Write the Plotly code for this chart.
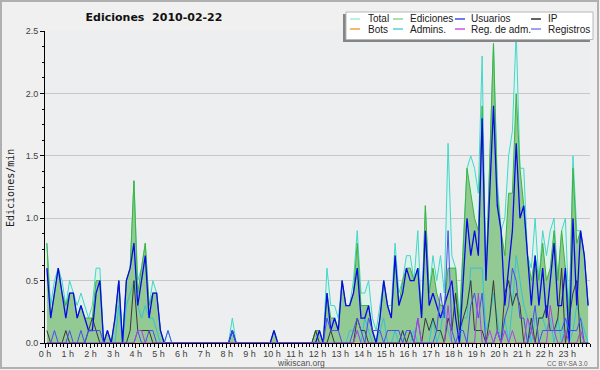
import plotly.graph_objects as go

# ---------------- data (edits per minute, 10-minute steps, 2010-02-22) ----------------
HOUR_TICKS = list(range(24))
HOUR_LABELS = ["0 h", "1 h", "2 h", "3 h", "4 h", "5 h", "6 h", "7 h", "8 h", "9 h", "10 h", "11 h",
               "12 h", "13 h", "14 h", "15 h", "16 h", "17 h", "18 h", "19 h", "20 h", "21 h", "22 h", "23 h"]

total = [
    0.8, 0.3, 0.5, 0.6, 0.5, 0.3,   # 0 h
    0.5, 0.4, 0.3, 0.4, 0.3, 0.2,   # 1 h
    0.3, 0.6, 0.6, 0.0, 0.1, 0.0,   # 2 h
    0.2, 0.5, 0.0, 0.5, 0.6, 1.3,   # 3 h
    0.5, 0.6, 0.8, 0.3, 0.5, 0.4,   # 4 h
    0.1, 0.0, 0.1, 0.0, 0.0, 0.0,   # 5 h
    0.0, 0.0, 0.0, 0.0, 0.0, 0.0,   # 6 h
    0.0, 0.0, 0.0, 0.0, 0.0, 0.0,   # 7 h
    0.0, 0.2, 0.0, 0.0, 0.0, 0.0,   # 8 h
    0.0, 0.0, 0.0, 0.0, 0.0, 0.0,   # 9 h
    0.1, 0.0, 0.0, 0.0, 0.0, 0.0,   # 10 h
    0.0, 0.0, 0.0, 0.0, 0.0, 0.1,   # 11 h
    0.1, 0.0, 0.6, 0.3, 0.3, 0.2,   # 12 h
    0.5, 0.3, 0.3, 0.5, 0.9, 0.4,   # 13 h
    0.4, 0.5, 0.2, 0.1, 0.3, 0.5,   # 14 h
    0.3, 0.3, 0.8, 0.4, 0.5, 0.7,   # 15 h
    0.7, 0.5, 0.9, 0.2, 1.1, 0.4,   # 16 h
    0.7, 0.5, 0.7, 0.4, 1.6, 0.7,   # 17 h
    0.6, 0.2, 0.8, 1.4, 1.5, 1.4,   # 18 h
    1.2, 2.3, 0.5, 1.4, 2.4, 1.3,   # 19 h
    0.9, 1.0, 1.5, 1.7, 2.5, 1.4,   # 20 h
    1.4, 0.7, 0.6, 1.0, 0.5, 0.9,   # 21 h
    0.7, 0.9, 1.0, 0.5, 0.9, 1.0,   # 22 h
    0.2, 1.5, 0.9, 0.9, 0.7, 0.3,   # 23 h
]

ediciones = [
    0.8, 0.2, 0.4, 0.6, 0.4, 0.3,
    0.4, 0.4, 0.2, 0.3, 0.2, 0.2,
    0.2, 0.5, 0.5, 0.0, 0.1, 0.0,
    0.2, 0.5, 0.0, 0.5, 0.6, 1.3,
    0.4, 0.6, 0.8, 0.3, 0.4, 0.4,
    0.1, 0.0, 0.0, 0.0, 0.0, 0.0,
    0.0, 0.0, 0.0, 0.0, 0.0, 0.0,
    0.0, 0.0, 0.0, 0.0, 0.0, 0.0,
    0.0, 0.1, 0.0, 0.0, 0.0, 0.0,
    0.0, 0.0, 0.0, 0.0, 0.0, 0.0,
    0.1, 0.0, 0.0, 0.0, 0.0, 0.0,
    0.0, 0.0, 0.0, 0.0, 0.0, 0.1,
    0.1, 0.0, 0.4, 0.2, 0.2, 0.1,
    0.5, 0.3, 0.3, 0.4, 0.8, 0.3,
    0.3, 0.3, 0.1, 0.0, 0.2, 0.5,
    0.3, 0.2, 0.7, 0.3, 0.5, 0.6,
    0.6, 0.5, 0.6, 0.2, 1.1, 0.4,
    0.6, 0.4, 0.3, 0.3, 0.6, 0.6,
    0.6, 0.1, 0.7, 1.4, 1.2, 1.0,
    0.9, 1.9, 0.5, 1.4, 2.4, 1.2,
    0.9, 0.7, 1.2, 1.2, 2.0, 1.4,
    1.1, 0.7, 0.5, 0.7, 0.5, 0.8,
    0.5, 0.6, 0.9, 0.5, 0.9, 0.6,
    0.2, 1.4, 0.8, 0.9, 0.7, 0.3,
]

usuarios = [
    0.6, 0.2, 0.4, 0.6, 0.4, 0.2,
    0.4, 0.4, 0.2, 0.3, 0.2, 0.1,
    0.1, 0.4, 0.5, 0.0, 0.1, 0.0,
    0.2, 0.5, 0.0, 0.5, 0.6, 0.8,
    0.3, 0.5, 0.7, 0.2, 0.4, 0.4,
    0.1, 0.0, 0.0, 0.0, 0.0, 0.0,
    0.0, 0.0, 0.0, 0.0, 0.0, 0.0,
    0.0, 0.0, 0.0, 0.0, 0.0, 0.0,
    0.0, 0.1, 0.0, 0.0, 0.0, 0.0,
    0.0, 0.0, 0.0, 0.0, 0.0, 0.0,
    0.1, 0.0, 0.0, 0.0, 0.0, 0.0,
    0.0, 0.0, 0.0, 0.0, 0.0, 0.0,
    0.1, 0.0, 0.4, 0.1, 0.2, 0.1,
    0.5, 0.3, 0.3, 0.4, 0.6, 0.2,
    0.2, 0.3, 0.1, 0.0, 0.2, 0.5,
    0.3, 0.2, 0.7, 0.3, 0.4, 0.6,
    0.5, 0.5, 0.6, 0.2, 0.9, 0.3,
    0.4, 0.3, 0.2, 0.3, 0.4, 0.5,
    0.2, 0.0, 0.5, 1.0, 0.7, 0.9,
    0.7, 1.8, 0.5, 1.2, 1.9, 1.1,
    0.9, 0.3, 0.6, 0.9, 1.6, 1.0,
    1.1, 0.7, 0.3, 0.7, 0.3, 0.6,
    0.2, 0.5, 0.8, 0.3, 0.3, 0.6,
    0.0, 1.0, 0.3, 0.9, 0.7, 0.3,
]

ip = [
    0.1, 0.0, 0.0, 0.0, 0.0, 0.1,
    0.0, 0.0, 0.0, 0.0, 0.0, 0.1,
    0.2, 0.1, 0.0, 0.0, 0.0, 0.0,
    0.0, 0.0, 0.0, 0.0, 0.1, 0.5,
    0.1, 0.1, 0.1, 0.1, 0.0, 0.0,
    0.0, 0.0, 0.0, 0.0, 0.0, 0.0,
    0.0, 0.0, 0.0, 0.0, 0.0, 0.0,
    0.0, 0.0, 0.0, 0.0, 0.0, 0.0,
    0.0, 0.0, 0.0, 0.0, 0.0, 0.0,
    0.0, 0.0, 0.0, 0.0, 0.0, 0.0,
    0.0, 0.0, 0.0, 0.0, 0.0, 0.0,
    0.0, 0.0, 0.0, 0.0, 0.0, 0.1,
    0.0, 0.0, 0.0, 0.1, 0.0, 0.0,
    0.0, 0.0, 0.0, 0.0, 0.2, 0.1,
    0.1, 0.0, 0.0, 0.0, 0.0, 0.0,
    0.0, 0.0, 0.0, 0.0, 0.1, 0.0,
    0.1, 0.0, 0.0, 0.0, 0.2, 0.1,
    0.2, 0.1, 0.1, 0.0, 0.2, 0.1,
    0.4, 0.1, 0.2, 0.3, 0.5, 0.1,
    0.1, 0.1, 0.0, 0.2, 0.5, 0.1,
    0.0, 0.4, 0.5, 0.3, 0.4, 0.3,
    0.0, 0.0, 0.2, 0.0, 0.2, 0.2,
    0.3, 0.1, 0.1, 0.2, 0.6, 0.0,
    0.2, 0.4, 0.5, 0.0, 0.0, 0.0,
]

bots = [0.0] * 144  # no bot edits that day

admins = [
    0.0, 0.0, 0.0, 0.0, 0.0, 0.0,
    0.0, 0.0, 0.0, 0.0, 0.0, 0.0,
    0.0, 0.0, 0.0, 0.0, 0.0, 0.0,
    0.0, 0.3, 0.0, 0.3, 0.4, 0.5,
    0.3, 0.2, 0.3, 0.2, 0.2, 0.1,
    0.0, 0.0, 0.0, 0.0, 0.0, 0.0,
    0.0, 0.0, 0.0, 0.0, 0.0, 0.0,
    0.0, 0.0, 0.0, 0.0, 0.0, 0.0,
    0.0, 0.1, 0.0, 0.0, 0.0, 0.0,
    0.0, 0.0, 0.0, 0.0, 0.0, 0.0,
    0.0, 0.0, 0.0, 0.0, 0.0, 0.0,
    0.0, 0.0, 0.0, 0.0, 0.0, 0.0,
    0.0, 0.0, 0.0, 0.0, 0.0, 0.0,
    0.0, 0.0, 0.1, 0.1, 0.1, 0.0,
    0.2, 0.1, 0.0, 0.0, 0.1, 0.2,
    0.0, 0.0, 0.1, 0.0, 0.1, 0.0,
    0.0, 0.1, 0.0, 0.0, 0.0, 0.0,
    0.2, 0.0, 0.1, 0.3, 0.1, 0.0,
    0.0, 0.0, 0.2, 0.2, 0.6, 0.6,
    0.6, 0.6, 0.1, 0.2, 0.4, 0.2,
    0.0, 0.2, 0.0, 0.3, 0.7, 0.5,
    0.3, 0.2, 0.0, 0.2, 0.2, 0.2,
    0.1, 0.2, 0.0, 0.2, 0.0, 0.2,
    0.0, 0.1, 0.3, 0.2, 0.1, 0.0,
]

reg_adm = [
    0.0, 0.0, 0.0, 0.0, 0.0, 0.0,
    0.0, 0.0, 0.0, 0.0, 0.0, 0.0,
    0.0, 0.0, 0.0, 0.0, 0.0, 0.0,
    0.0, 0.0, 0.0, 0.0, 0.0, 0.0,
    0.1, 0.1, 0.0, 0.0, 0.0, 0.0,
    0.0, 0.0, 0.0, 0.0, 0.0, 0.0,
    0.0, 0.0, 0.0, 0.0, 0.0, 0.0,
    0.0, 0.0, 0.0, 0.0, 0.0, 0.0,
    0.0, 0.0, 0.0, 0.0, 0.0, 0.0,
    0.0, 0.0, 0.0, 0.0, 0.0, 0.0,
    0.0, 0.0, 0.0, 0.0, 0.0, 0.0,
    0.0, 0.0, 0.0, 0.0, 0.0, 0.0,
    0.0, 0.0, 0.0, 0.0, 0.0, 0.0,
    0.0, 0.0, 0.0, 0.0, 0.1, 0.0,
    0.0, 0.0, 0.0, 0.0, 0.0, 0.0,
    0.0, 0.0, 0.0, 0.0, 0.0, 0.0,
    0.0, 0.0, 0.2, 0.0, 0.0, 0.0,
    0.0, 0.0, 0.0, 0.0, 0.3, 0.0,
    0.0, 0.0, 0.0, 0.0, 0.0, 0.0,
    0.4, 0.0, 0.0, 0.1, 0.0, 0.1,
    0.0, 0.1, 0.0, 0.1, 0.0, 0.0,
    0.0, 0.2, 0.1, 0.0, 0.0, 0.0,
    0.0, 0.3, 0.1, 0.0, 0.0, 0.1,
    0.0, 0.0, 0.0, 0.1, 0.0, 0.0,
]

registros = [
    0.0, 0.0, 0.1, 0.0, 0.0, 0.0,
    0.1, 0.0, 0.0, 0.1, 0.0, 0.1,
    0.1, 0.1, 0.1, 0.0, 0.0, 0.0,
    0.0, 0.0, 0.0, 0.0, 0.0, 0.0,
    0.1, 0.0, 0.0, 0.1, 0.1, 0.0,
    0.0, 0.0, 0.1, 0.0, 0.0, 0.0,
    0.0, 0.0, 0.0, 0.0, 0.0, 0.0,
    0.0, 0.0, 0.0, 0.0, 0.0, 0.0,
    0.0, 0.1, 0.0, 0.0, 0.0, 0.0,
    0.0, 0.0, 0.0, 0.0, 0.0, 0.0,
    0.0, 0.0, 0.0, 0.0, 0.0, 0.0,
    0.0, 0.0, 0.0, 0.0, 0.0, 0.0,
    0.0, 0.0, 0.2, 0.1, 0.1, 0.1,
    0.0, 0.0, 0.0, 0.1, 0.2, 0.1,
    0.0, 0.2, 0.1, 0.1, 0.1, 0.0,
    0.1, 0.1, 0.1, 0.1, 0.0, 0.1,
    0.1, 0.0, 0.2, 0.0, 0.0, 0.0,
    0.0, 0.1, 0.4, 0.2, 0.9, 0.1,
    0.0, 0.1, 0.1, 0.0, 0.3, 0.4,
    0.2, 0.4, 0.0, 0.0, 0.0, 0.1,
    0.0, 0.2, 0.3, 0.6, 0.5, 0.2,
    0.2, 0.0, 0.1, 0.3, 0.0, 0.1,
    0.1, 0.1, 0.1, 0.1, 0.1, 0.2,
    0.1, 0.1, 0.1, 0.2, 0.0, 0.0,
]

# sample times (hours): centre of each 10-minute step
hours = [(k + 0.5) / 6 for k in range(len(total))]

# ---------------- styles ----------------
W, H = 600, 370
ML, MR, MT, MB = 45, 10, 31, 27
PW, PH = W - ML - MR, H - MT - MB


def px(x):
    return (x - ML) / PW


def py(y):
    return (H - MB - y) / PH


SERIES = [
    # name, values, line colour, width, fill colour, legend colour
    ("Total", total, "#40d8c8", 1, "#ddf2eb", "#a8e8e0"),
    ("Ediciones", ediciones, "#3cb43c", 1, "#93c993", "#90d490"),
    ("Bots", bots, "#f0a030", 1, None, "#f0a040"),
    ("Admins.", admins, "#30c4d8", 1, None, "#50d0e0"),
    ("IP", ip, "#383838", 1, None, "#303030"),
    ("Usuarios", usuarios, "#0a0ae8", 1.3, None, "#4848e8"),
    ("Registros", registros, "#4b4bf2", 1, None, "#8080f0"),
    ("Reg. de adm.", reg_adm, "#b040e0", 1, None, "#d050e0"),
]

fig = go.Figure()
for name, vals, col, wid, fillcol, _ in SERIES:
    kw = {}
    if fillcol:
        kw = dict(fill="tozeroy", fillcolor=fillcol)
    fig.add_trace(go.Scatter(x=hours, y=vals, mode="lines", name=name,
                             line=dict(color=col, width=wid), showlegend=False, **kw))

tick_font = dict(family="Liberation Sans, Arial, sans-serif", size=9, color="#404040")

fig.update_layout(
    width=W, height=H,
    margin=dict(l=ML, r=MR, t=MT, b=MB, pad=0),
    paper_bgcolor="#f0f0f0",
    plot_bgcolor="#eceef0",
    showlegend=False,
    title=dict(text="Ediciones\u00a0 2010-02-22", x=154 / W, xref="container", xanchor="center",
               y=1 - 17 / H, yref="container", yanchor="middle",
               font=dict(family="DejaVu Sans, sans-serif", size=11, color="#111111", weight="bold")),
    xaxis=dict(range=[0, 24], tickmode="array", tickvals=HOUR_TICKS, ticktext=HOUR_LABELS,
               ticks="outside", ticklen=4, tickcolor="#000000", tickwidth=1, ticklabelstandoff=-2,
               showline=True, linecolor="#000000", linewidth=1, showgrid=False, zeroline=False,
               tickfont=tick_font,
               minor=dict(tickmode="linear", tick0=0, dtick=1 / 6, ticks="outside", ticklen=3,
                          tickcolor="#000000", showgrid=False)),
    yaxis=dict(range=[0, 2.5], dtick=0.5, tickformat=".1f", ticks="outside", ticklen=4,
               tickcolor="#000000", showline=True, linecolor="#000000", linewidth=1,
               gridcolor="#c8c8c8", gridwidth=1, zeroline=False, tickfont=tick_font,
               minor=dict(dtick=0.125, ticks="outside", ticklen=2, tickcolor="#000000", showgrid=False)),
)

shapes = []
annotations = []

# image frame
shapes.append(dict(type="rect", xref="paper", yref="paper", x0=px(1), x1=px(598), y0=py(1), y1=py(368),
                   line=dict(color="#b0b0b0", width=2), fillcolor="rgba(0,0,0,0)", layer="above"))

# legend box with shadow
shapes.append(dict(type="rect", xref="paper", yref="paper", x0=px(343), x1=px(590), y0=py(14), y1=py(42),
                   line=dict(width=0), fillcolor="#858585", layer="above"))
shapes.append(dict(type="rect", xref="paper", yref="paper", x0=px(346), x1=px(593), y0=py(12), y1=py(39.5),
                   line=dict(color="#b8b8b8", width=1), fillcolor="#ffffff", layer="above"))

legend_cells = {
    "Total": (350, 366, 19), "Ediciones": (393, 408, 19), "Usuarios": (455, 469, 19), "IP": (531, 546, 19),
    "Bots": (350, 366, 29), "Admins.": (393, 408, 29), "Reg. de adm.": (455, 469, 29), "Registros": (531, 546, 29),
}
legend_colour = {s[0]: s[5] for s in SERIES}
for name in ["Total", "Ediciones", "Usuarios", "IP", "Bots", "Admins.", "Reg. de adm.", "Registros"]:
    sx, tx, ty = legend_cells[name]
    shapes.append(dict(type="line", xref="paper", yref="paper", x0=px(sx), x1=px(sx + 10), y0=py(ty), y1=py(ty),
                       line=dict(color=legend_colour[name], width=1.5), layer="above"))
    annotations.append(dict(text=name, xref="paper", yref="paper", x=px(tx), y=py(ty),
                            xanchor="left", yanchor="middle", showarrow=False,
                            font=dict(family="Liberation Sans, Arial, sans-serif", size=10, color="#202020")))

# axis title and credits
annotations.append(dict(text="Ediciones/min", xref="paper", yref="paper", x=px(10), y=py(188),
                        textangle=-90, xanchor="center", yanchor="middle", showarrow=False,
                        font=dict(family="DejaVu Sans Mono, monospace", size=10, color="#202020")))
annotations.append(dict(text="wikiscan.org", xref="paper", yref="paper", x=px(301), y=py(363),
                        xanchor="center", yanchor="middle", showarrow=False,
                        font=dict(family="Liberation Sans, Arial, sans-serif", size=8.5, color="#505050")))
annotations.append(dict(text="CC BY-SA 3.0", xref="paper", yref="paper", x=px(590), y=py(363),
                        xanchor="right", yanchor="middle", showarrow=False,
                        font=dict(family="Liberation Sans, Arial, sans-serif", size=6.5, color="#606060")))

fig.update_layout(shapes=shapes, annotations=annotations)
# remove the default page margin so the 600x370 figure fills the window exactly
fig.write_html("out.html", config={"displayModeBar": False},
               post_script="document.body.style.margin='0';")
